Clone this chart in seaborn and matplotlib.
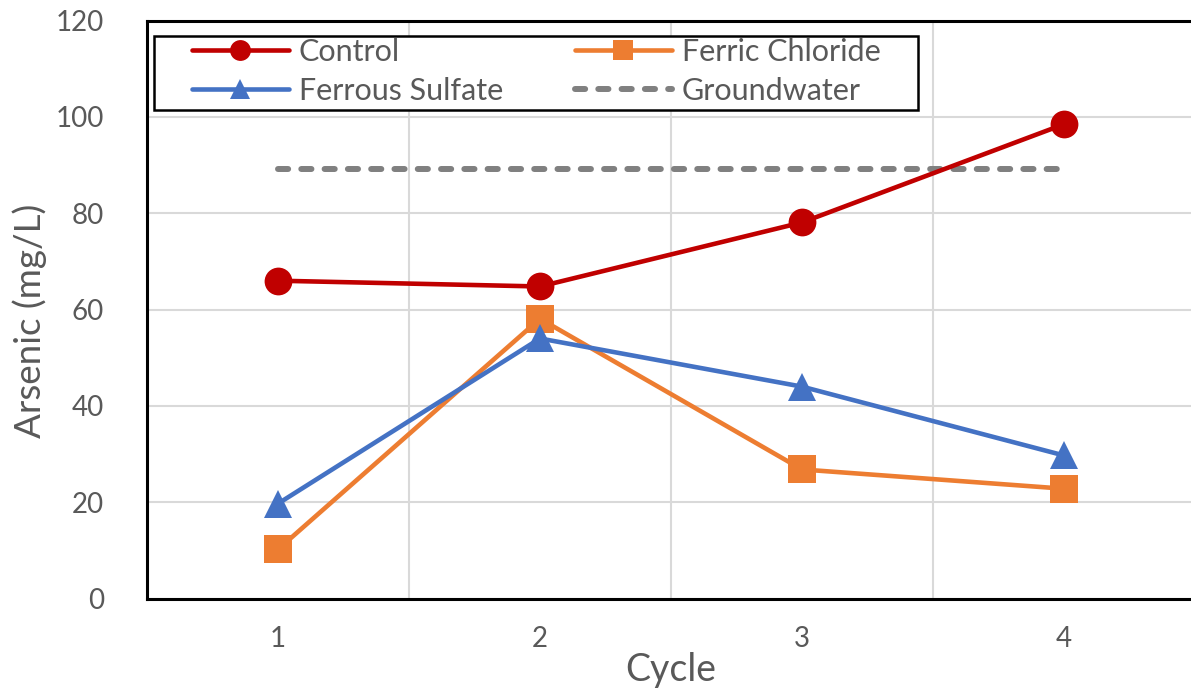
import numpy as np
import pandas as pd
import matplotlib
matplotlib.use("Agg")
import matplotlib.pyplot as plt
import seaborn as sns
from matplotlib.lines import Line2D
from matplotlib.patches import Rectangle

cycles = [1, 2, 3, 4]
control = [66.0, 64.8, 78.1, 98.5]
ferric_chloride = [10.2, 58.1, 26.8, 22.8]
ferrous_sulfate = [19.7, 54.0, 44.0, 29.7]
groundwater = [89.3, 89.3, 89.3, 89.3]

series_names = ["Control", "Ferric Chloride", "Ferrous Sulfate", "Groundwater"]
colors = {"Control": "#C00000", "Ferric Chloride": "#ED7D31",
          "Ferrous Sulfate": "#4472C4", "Groundwater": "#808080"}
markers = {"Control": "o", "Ferric Chloride": "s", "Ferrous Sulfate": "^", "Groundwater": ""}

df = pd.DataFrame({
    "Cycle": cycles * 4,
    "Arsenic": control + ferric_chloride + ferrous_sulfate + groundwater,
    "Series": sum([[n] * 4 for n in series_names], []),
})

sns.set_style("white")
plt.rcParams["font.family"] = ["Lato", "DejaVu Sans"]
text_color = "#595959"

fig = plt.figure(figsize=(11.91, 6.94), dpi=100)
ax = fig.add_axes([0.1234, 0.1376, 1.0034 - 0.1234, 0.9702 - 0.1376])

ax.set_xlim(0.5, 4.5)
ax.set_ylim(0, 120)
ax.set_xticks(cycles)
ax.set_xticks([1.5, 2.5, 3.5], minor=True)
ax.set_yticks(np.arange(0, 121, 20))
ax.grid(False)
ax.grid(True, which="minor", axis="x", color="#D9D9D9", lw=1.5)
ax.grid(True, which="major", axis="y", color="#D9D9D9", lw=1.5)
ax.set_axisbelow(True)

line_w = 3.3
gw_w = 4.3
gw_dashes = [1.7, 2.2]
marker_size = 20

# groundwater reference level
gw = df[df["Series"] == "Groundwater"]
sns.lineplot(data=gw, x="Cycle", y="Arsenic", ax=ax, color=colors["Groundwater"],
             lw=gw_w, legend=False, zorder=3)
ax.lines[-1].set_dashes(gw_dashes)
ax.lines[-1].set_dash_capstyle("round")

for name in ["Ferric Chloride", "Ferrous Sulfate", "Control"]:
    sub = df[df["Series"] == name]
    sns.lineplot(data=sub, x="Cycle", y="Arsenic", ax=ax, color=colors[name],
                 lw=line_w, marker=markers[name], markersize=marker_size,
                 markeredgecolor=colors[name], markeredgewidth=0,
                 legend=False, zorder=4)

for side in ["left", "bottom", "top"]:
    ax.spines[side].set_visible(True)
    ax.spines[side].set_color("black")
    ax.spines[side].set_linewidth(2.2)
ax.spines["right"].set_visible(False)

ax.tick_params(axis="both", which="both", length=0, labelsize=20, colors=text_color)
ax.tick_params(axis="y", pad=31)
ax.tick_params(axis="x", pad=20)
ax.set_xlabel("Cycle", fontsize=27, color=text_color, labelpad=0)
ax.set_ylabel("Arsenic (mg/L)", fontsize=26.5, color=text_color, labelpad=12)
ax.yaxis.set_label_coords(-0.095, 0.48)

handles = []
for name in series_names:
    if name == "Groundwater":
        h = Line2D([], [], color=colors[name], lw=gw_w, dashes=gw_dashes,
                   dash_capstyle="round")
    else:
        h = Line2D([], [], color=colors[name], lw=line_w, marker=markers[name],
                   markersize=15, markeredgewidth=0)
    handles.append(h)
order = [0, 2, 1, 3]
leg = ax.legend([handles[i] for i in order], [series_names[i] for i in order],
                ncol=2, loc="upper left", bbox_to_anchor=(0.043, 0.970),
                borderaxespad=0, fontsize=22, frameon=False,
                handlelength=3.17, columnspacing=2.35, borderpad=0,
                labelspacing=0.36, handletextpad=0.33)
for t in leg.get_texts():
    t.set_color(text_color)
leg.set_zorder(6)

# legend box with wider side margins
fig.canvas.draw()
bb = leg.get_window_extent()
pad_l, pad_r, pad_top, pad_bot = 38, 37, 2, 5
(x0, y0), (x1, y1) = fig.transFigure.inverted().transform(
    [[bb.x0 - pad_l, bb.y0 - pad_bot], [bb.x1 + pad_r, bb.y1 + pad_top]])
ax.add_patch(Rectangle((x0, y0), x1 - x0, y1 - y0, transform=fig.transFigure,
                       facecolor="white", edgecolor="black", lw=1.8,
                       zorder=5, clip_on=False))

fig.savefig("out.png", dpi=100)
